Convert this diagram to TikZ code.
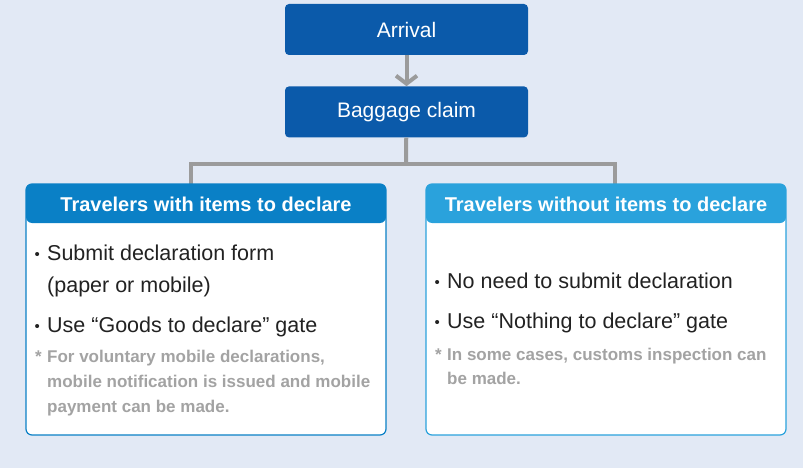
\documentclass[tikz,border=0pt]{standalone}
\usepackage{fontspec}
\setmainfont{Liberation Sans}
\usetikzlibrary{arrows.meta,positioning}
\definecolor{bgblue}{HTML}{E2E9F5}
\definecolor{darkblue}{HTML}{0B5AAA}
\definecolor{declblue}{HTML}{0A80C6}
\definecolor{freeblue}{HTML}{2AA2DC}
\definecolor{linegray}{HTML}{9B9B9B}
\definecolor{notegray}{HTML}{A3A3A3}
\definecolor{inkgray}{HTML}{222222}
\tikzset{
  stage/.style={fill=darkblue, text=white, rounded corners=4pt,
    minimum width=243pt, minimum height=51pt,
    font=\fontsize{21}{21}\selectfont},
  panel/.style={draw=#1, fill=white, line width=1.2pt, rounded corners=6pt,
    minimum width=360pt, minimum height=251pt,
    path picture={\fill[#1] (path picture bounding box.north west)
      rectangle ([yshift=-39pt]path picture bounding box.north east);}},
  head/.style={anchor=base, text=white, inner sep=0pt,
    font=\bfseries\fontsize{20}{20}\selectfont},
  item/.style={anchor=base west, text=inkgray, inner sep=0pt,
    font=\fontsize{21.5}{21.5}\selectfont},
  dot/.style={item, font=\fontsize{15}{15}\selectfont},
  note/.style={anchor=base west, text=notegray, inner sep=0pt,
    font=\bfseries\fontsize{17}{17}\selectfont},
  conn/.style={draw=linegray, line width=4pt}
}

\begin{document}
\begin{tikzpicture}[x=1pt, y=-1pt]
    % background fixes the size of the page
    \fill[bgblue] (0,0) rectangle (803,468);
    \useasboundingbox (0,0) rectangle (803,468);

    % the two steps on top
    \node [stage] (arrival) at (406.5,29.5) {Arrival};
    \node [stage, below=31pt of arrival] (claim) {Baggage claim};

    % split point and the two drops
    \coordinate (split) at (406,164);
    \coordinate (ldrop) at (191,188);
    \coordinate (rdrop) at (615,188);

    \draw [conn, -{Straight Barb[length=8pt,width=21pt]}] (arrival) -- (claim);
    \draw [conn] (claim) -- (split);
    \draw [conn] (ldrop) |- (split) -| (rdrop);

    % the two panels
    \node [panel=declblue] (leftbox) at (206,309.5) {};
    \node [panel=freeblue] (rightbox) at (606,309.5) {};
    \node [head] (lefthead) at (206,211) {Travelers with items to declare};
    \node [head] (righthead) at (606,211) {Travelers without items to declare};

    % left panel text
    \node [dot] (lb1) at (34.5,259) {•};
    \node [item] (l1) at (47,260) {Submit declaration form};
    \node [item] (l2) at (47,292) {(paper or mobile)};
    \node [dot] (lb2) at (34.5,331) {•};
    \node [item] (l3) at (47,332) {Use “Goods to declare” gate};
    \node [note] (lstar) at (35,362) {*};
    \node [note] (n1) at (47,362) {For voluntary mobile declarations,};
    \node [note] (n2) at (47,387) {mobile notification is issued and mobile};
    \node [note] (n3) at (47,412) {payment can be made.};

    % right panel text
    \node [dot] (rb1) at (434.5,287) {•};
    \node [item] (r1) at (447,288) {No need to submit declaration};
    \node [dot] (rb2) at (434.5,327) {•};
    \node [item] (r2) at (447,328) {Use “Nothing to declare” gate};
    \node [note] (rstar) at (435,360) {*};
    \node [note] (m1) at (447,360) {In some cases, customs inspection can};
    \node [note] (m2) at (447,384) {be made.};
\end{tikzpicture}
\end{document}
